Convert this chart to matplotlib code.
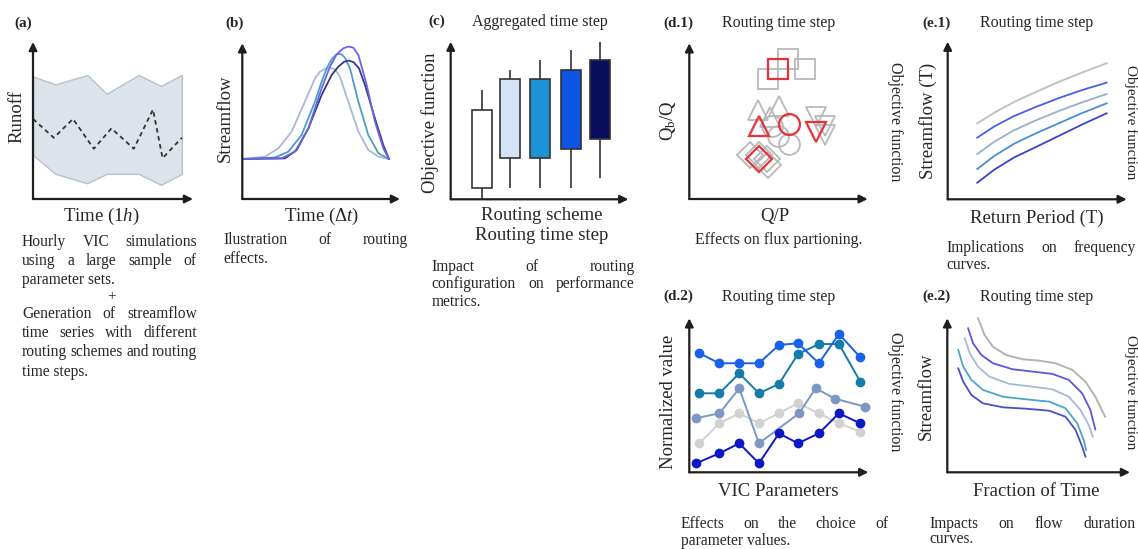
import matplotlib
matplotlib.use("Agg")
import matplotlib.pyplot as plt

W, H = 1138, 549

plt.rcParams["font.family"] = ["Liberation Serif", "DejaVu Serif"]
plt.rcParams["mathtext.fontset"] = "custom"
plt.rcParams["mathtext.rm"] = "Liberation Serif"
plt.rcParams["mathtext.it"] = "Liberation Serif:italic"

TXT = "#262626"
AXC = "#1e1e1e"

# ---- (a) runoff band from hourly VIC simulations
a_x = [0, 1.4, 3.4, 4.6, 6.6, 8.0, 9.3]
a_upper = [7.8, 7.3, 7.9, 6.7, 7.9, 7.2, 7.9]
a_lower = [2.8, 1.6, 1.0, 1.6, 1.6, 0.9, 1.6]
a_mid_x = [0, 1.3, 2.5, 3.8, 4.9, 6.3, 7.5, 8.1, 9.3]
a_mid_y = [5.1, 3.9, 5.1, 3.2, 4.5, 3.2, 5.7, 2.6, 3.9]

# ---- (b) hydrographs for different routing set-ups
b_light_x = [0, 1.44, 2.28, 3.13, 3.97, 4.61, 4.93, 5.24, 5.56, 5.88, 6.19, 6.72, 7.36, 7.99, 8.63, 9.3]
b_light_y = [2.57, 2.72, 3.25, 4.33, 6.25, 7.75, 8.18, 8.35, 8.42, 8.33, 7.86, 6.25, 4.33, 3.15, 2.72, 2.57]
b_teal_x = [0, 2.07, 2.92, 3.76, 4.61, 5.03, 5.35, 5.67, 5.98, 6.26, 6.51, 6.83, 7.36, 7.99, 8.63, 9.3]
b_teal_y = [2.57, 2.66, 3.04, 4.11, 6.25, 7.54, 8.39, 8.99, 9.29, 9.31, 9.08, 8.39, 6.25, 4.11, 2.94, 2.57]
b_purple_x = [0, 2.49, 3.34, 4.19, 5.03, 5.56, 5.98, 6.41, 6.72, 7.04, 7.36, 7.89, 8.41, 8.94, 9.3]
b_purple_y = [2.57, 2.61, 3.04, 4.54, 7.11, 8.50, 9.29, 9.68, 9.79, 9.72, 9.25, 7.32, 4.97, 3.26, 2.57]
b_navy_x = [0, 2.71, 3.45, 4.19, 5.03, 5.67, 6.09, 6.47, 6.77, 7.06, 7.40, 7.78, 8.41, 8.94, 9.3]
b_navy_y = [2.57, 2.61, 3.15, 4.54, 6.68, 7.97, 8.50, 8.82, 8.89, 8.78, 8.39, 7.32, 5.18, 3.47, 2.57]

# ---- (c) boxes of objective function
c_pos = [1.75, 3.36, 5.04, 6.77, 8.42]
c_q1 = [0.70, 2.60, 2.60, 3.21, 3.83]
c_q3 = [5.67, 7.65, 7.65, 8.20, 8.82]
c_lo = [0.0, 0.70, 0.70, 0.70, 1.33]
c_hi = [6.94, 8.20, 8.84, 9.47, 10.0]
c_colors = ["#ffffff", "#d5e3f6", "#1e93d8", "#0c56e2", "#0a0f5e"]

# ---- (d.1) flux partitioning markers
d1_sq_x, d1_sq_y = [5.55, 6.49, 4.43], [8.99, 8.35, 7.71]
d1_up_x, d1_up_y = [3.87, 5.03, 4.52], [5.72, 6.00, 5.29]
d1_ci_x, d1_ci_y = [4.65, 4.95, 5.59], [4.71, 4.07, 3.55]
d1_dn_x, d1_dn_y = [7.10, 7.61, 7.61], [5.29, 4.71, 4.11]
d1_di_x, d1_di_y = [3.40, 4.34, 3.91, 4.43], [2.83, 2.57, 2.83, 2.18]
d1_red_x = [4.99, 3.91, 5.59, 7.10, 3.91]
d1_red_y = [8.35, 4.71, 4.80, 4.28, 2.57]
d1_red_m = ["s", "^", "o", "v", "D"]

# ---- (e.1) frequency curves
e1_x = [1.65, 2.6, 3.7, 4.97, 6.2, 7.5, 8.88]
e1_gray = [4.82, 5.49, 6.17, 6.83, 7.45, 8.04, 8.63]
e1_blue = [3.91, 4.62, 5.28, 5.88, 6.42, 6.93, 7.40]
e1_light = [2.87, 3.65, 4.38, 5.03, 5.60, 6.15, 6.68]
e1_teal = [1.92, 2.75, 3.52, 4.21, 4.82, 5.47, 6.09]
e1_navy = [1.05, 1.88, 2.65, 3.34, 4.02, 4.74, 5.46]

# ---- (d.2) normalized parameter values
d2_top_x = [0.56, 1.68, 2.79, 3.89, 5.01, 6.07, 7.24, 8.36, 9.55]
d2_top_y = [7.73, 7.08, 7.08, 7.08, 8.27, 8.38, 7.08, 8.98, 7.47]
d2_teal_x = [0.56, 1.68, 2.79, 3.89, 5.01, 6.07, 7.24, 8.36, 9.55]
d2_teal_y = [5.13, 5.13, 6.43, 5.13, 5.74, 7.68, 8.33, 8.33, 5.89]
d2_gblue_x = [0.37, 1.68, 2.79, 3.89, 6.13, 7.06, 8.14, 9.81]
d2_gblue_y = [3.51, 3.83, 5.45, 1.88, 3.83, 5.45, 4.78, 4.26]
d2_gray_x = [0.56, 1.68, 2.79, 3.89, 5.01, 6.07, 7.24, 8.36, 9.55]
d2_gray_y = [1.88, 3.18, 3.83, 3.18, 3.83, 4.48, 3.83, 3.18, 2.64]
d2_navy_x = [0.37, 1.68, 2.79, 3.89, 5.01, 6.07, 7.24, 8.36, 9.55]
d2_navy_y = [0.58, 1.23, 1.88, 0.58, 2.53, 1.88, 2.53, 3.83, 3.18]

# ---- (e.2) flow duration curves
e2_gray_x = [1.68, 2.04, 2.49, 3.22, 4.12, 5.03, 5.93, 6.84, 7.56, 8.10, 8.64]
e2_gray_y = [10.0, 8.92, 8.16, 7.62, 7.34, 7.25, 7.08, 6.65, 5.89, 4.91, 3.61]
e2_blue_x = [1.14, 1.41, 1.86, 2.50, 3.58, 4.67, 5.75, 6.65, 7.38, 7.83, 8.10]
e2_blue_y = [9.35, 8.38, 7.62, 7.08, 6.69, 6.54, 6.39, 6.00, 5.13, 4.05, 2.79]
e2_light_x = [0.96, 1.23, 1.68, 2.31, 3.40, 4.67, 5.75, 6.65, 7.29, 7.74, 7.96]
e2_light_y = [8.70, 7.73, 6.86, 6.21, 5.74, 5.56, 5.39, 4.91, 4.05, 3.07, 2.32]
e2_teal_x = [0.60, 0.87, 1.32, 1.95, 3.04, 4.30, 5.57, 6.47, 7.11, 7.47, 7.59]
e2_teal_y = [7.94, 6.86, 6.00, 5.35, 4.91, 4.74, 4.59, 4.16, 3.18, 2.10, 1.45]
e2_navy_x = [0.60, 0.87, 1.32, 1.95, 3.04, 4.30, 5.57, 6.47, 7.02, 7.38, 7.56]
e2_navy_y = [6.75, 5.89, 5.02, 4.48, 4.22, 4.13, 4.00, 3.61, 2.75, 1.67, 1.02]


fig = plt.figure(figsize=(W / 100, H / 100), dpi=100)


def panel(left, top, right, bottom):
    ax = fig.add_axes([left / W, 1 - bottom / H, (right - left) / W, (bottom - top) / H])
    ax.set_xlim(0, 10)
    ax.set_ylim(0, 10)
    ax.axis("off")
    for end in [(1, 0), (0, 1)]:
        ax.annotate("", xy=end, xytext=(0, 0), xycoords="axes fraction",
                    arrowprops=dict(arrowstyle="-|>", color=AXC, lw=1.6,
                                    mutation_scale=12, shrinkA=0, shrinkB=0))
    return ax


def ftext(x, y, s, **kw):
    kw.setdefault("color", TXT)
    kw.setdefault("ha", "center")
    kw.setdefault("va", "center")
    return fig.text(x / W, 1 - y / H, s, **kw)


def paragraph(lines, x0, x1, y0, dy, size=11.2):
    r = fig.canvas.get_renderer()
    for i, line in enumerate(lines):
        yb = 1 - (y0 + i * dy + 4) / H
        words = line.split()
        if i == len(lines) - 1 or len(words) == 1:
            fig.text(x0 / W, yb, line, fontsize=size, color=TXT, va="baseline")
            continue
        texts = [fig.text(0, yb, w, fontsize=size, color=TXT, va="baseline") for w in words]
        widths = [t.get_window_extent(r).width for t in texts]
        gap = (x1 - x0 - sum(widths)) / (len(words) - 1)
        x = x0
        for t, w in zip(texts, widths):
            t.set_x(x / W)
            x += w + gap


LAB = 13.5
TTL = 11.5

# (a)
ax = panel(33, 42, 193, 199)
ax.fill_between(a_x, a_lower, a_upper, color="#dde3ea", edgecolor="#b8c1cb", lw=1)
ax.plot(a_mid_x, a_mid_y, color="#333333", lw=1.3, ls=(0, (2.5, 2)))
ftext(22.7, 23.3, "(a)", fontsize=11, weight="bold")
ftext(16.7, 117, "Runoff", fontsize=LAB, rotation=90)
ftext(101.7, 216.7, "Time ($\\mathit{1h}$)", fontsize=LAB)
paragraph(["Hourly VIC simulations", "using a large sample of", "parameter sets."],
          22, 197, 241.7, 19.2)
ftext(111.7, 297, "+", fontsize=11)
paragraph(["Generation of streamflow", "time series with different",
           "routing schemes and routing", "time steps."], 22, 197, 314.3, 19.1)

# (b)
ax = panel(242.3, 43.3, 400, 199)
ax.plot(b_light_x, b_light_y, color="#a9b9d8", lw=1.3)
ax.plot(b_teal_x, b_teal_y, color="#4b9fc4", lw=1.3)
ax.plot(b_navy_x, b_navy_y, color="#363a86", lw=1.3)
ax.plot(b_purple_x, b_purple_y, color="#6c64e6", lw=1.3)
ftext(235, 23.3, "(b)", fontsize=11, weight="bold")
ftext(225, 118, "Streamflow", fontsize=LAB, rotation=90)
ftext(321.7, 216.7, "Time ($\\Delta t$)", fontsize=LAB)
paragraph(["Ilustration of routing", "effects."], 223.3, 407.3, 240, 19.3)

# (c)
ax = panel(450.7, 41.7, 628.3, 199.3)
ax.vlines(c_pos, c_lo, c_hi, color="#333333", lw=1.2, zorder=1, clip_on=False)
ax.bar(c_pos, [h - l for l, h in zip(c_q1, c_q3)], bottom=c_q1, width=1.13,
       color=c_colors, edgecolor="#333333", lw=1.2, zorder=2)
ftext(436.7, 21.7, "(c)", fontsize=11, weight="bold")
ftext(540, 21.7, "Aggregated time step", fontsize=TTL)
ftext(430, 123, "Objective function", fontsize=LAB, rotation=90)
ftext(541.7, 215, "Routing scheme", fontsize=LAB)
ftext(541.7, 235, "Routing time step", fontsize=LAB)
paragraph(["Impact of routing", "configuration on performance", "metrics."],
          431.7, 635, 266.7, 17.5)

# (d.1)
ax = panel(689.3, 43.3, 867.7, 199)
gkw = dict(ls="none", mfc="none", mec="#b9b9b9", mew=1.3)
ax.plot(d1_sq_x, d1_sq_y, marker="s", ms=14, **gkw)
ax.plot(d1_up_x, d1_up_y, marker="^", ms=15, **gkw)
ax.plot(d1_ci_x, d1_ci_y, marker="o", ms=15, **gkw)
ax.plot(d1_dn_x, d1_dn_y, marker="v", ms=15, **gkw)
ax.plot(d1_di_x, d1_di_y, marker="D", ms=13.5, **gkw)
for x, y, m in zip(d1_red_x, d1_red_y, d1_red_m):
    ax.plot(x, y, marker=m, ms=13.5 if m == "D" else (14 if m == "s" else 15),
            ls="none", mfc="none", mec="#e5323b", mew=1.6)
ftext(678.3, 23.3, "(d.1)", fontsize=11, weight="bold")
ftext(778.3, 23.3, "Routing time step", fontsize=TTL)
ftext(668.3, 120, "Q$_\\mathrm{b}$/Q", fontsize=LAB, rotation=90)
ftext(775, 216.7, "Q/P", fontsize=LAB)
ftext(778.3, 240, "Effects on flux partioning.", fontsize=11.4)

# (e.1)
ax = panel(947.7, 41.7, 1126.7, 199.3)
ax.plot(e1_x, e1_gray, color="#c2c2c2", lw=1.4)
ax.plot(e1_x, e1_blue, color="#4a5ee0", lw=1.3)
ax.plot(e1_x, e1_light, color="#98b0cc", lw=1.3)
ax.plot(e1_x, e1_teal, color="#4a8ed0", lw=1.3)
ax.plot(e1_x, e1_navy, color="#3c44c8", lw=1.3)
ftext(936.7, 23.3, "(e.1)", fontsize=11, weight="bold")
ftext(1036.7, 23.3, "Routing time step", fontsize=TTL)
ftext(928.3, 121, "Streamflow (T)", fontsize=LAB, rotation=90)
ftext(895, 121.7, "Objective function", fontsize=TTL, rotation=270)
ftext(1130.5, 122, "Objective function", fontsize=11, rotation=270)
ftext(1036.7, 218.3, "Return Period (T)", fontsize=LAB)
paragraph(["Implications on frequency", "curves."], 946.7, 1136, 248.3, 16.7)

# (d.2)
ax = panel(689.3, 318.3, 868.3, 472.3)
dkw = dict(lw=1.4, marker="o", ms=6)
ax.plot(d2_gray_x, d2_gray_y, color="#d2d2d2", **dkw)
ax.plot(d2_gblue_x, d2_gblue_y, color="#7c97c6", **dkw)
ax.plot(d2_navy_x, d2_navy_y, color="#0b18c4", **dkw)
ax.plot(d2_teal_x, d2_teal_y, color="#137ca9", **dkw)
ax.plot(d2_top_x, d2_top_y, color="#1a60ea", **dkw)
for ln in ax.lines:
    ln.set_clip_on(False)
ftext(678.3, 296.7, "(d.2)", fontsize=11, weight="bold")
ftext(778.3, 296.7, "Routing time step", fontsize=TTL)
ftext(668.3, 401.7, "Normalized value", fontsize=LAB, rotation=90)
ftext(778.3, 491.7, "VIC Parameters", fontsize=LAB)
paragraph(["Effects on the choice of", "parameter values."], 680.7, 888, 524, 16.7)

# (e.2)
ax = panel(947.3, 318.3, 1130, 472.3)
ax.plot(e2_gray_x, e2_gray_y, color="#b3b3b3", lw=1.4, clip_on=False)
ax.plot(e2_blue_x, e2_blue_y, color="#5b55e0", lw=1.3)
ax.plot(e2_light_x, e2_light_y, color="#a8b8d8", lw=1.3)
ax.plot(e2_teal_x, e2_teal_y, color="#4aa6c8", lw=1.3)
ax.plot(e2_navy_x, e2_navy_y, color="#4a4fc8", lw=1.3)
ftext(936.7, 296.7, "(e.2)", fontsize=11, weight="bold")
ftext(1036.7, 296.7, "Routing time step", fontsize=TTL)
ftext(926.7, 396.7, "Streamflow", fontsize=LAB, rotation=90)
ftext(895, 391.7, "Objective function", fontsize=TTL, rotation=270)
ftext(1130.5, 391.7, "Objective function", fontsize=11, rotation=270)
ftext(1036.7, 491.7, "Fraction of Time", fontsize=LAB)
paragraph(["Impacts on flow duration", "curves."], 929.3, 1136, 524, 15.3)

fig.savefig("out.png", dpi=100)
